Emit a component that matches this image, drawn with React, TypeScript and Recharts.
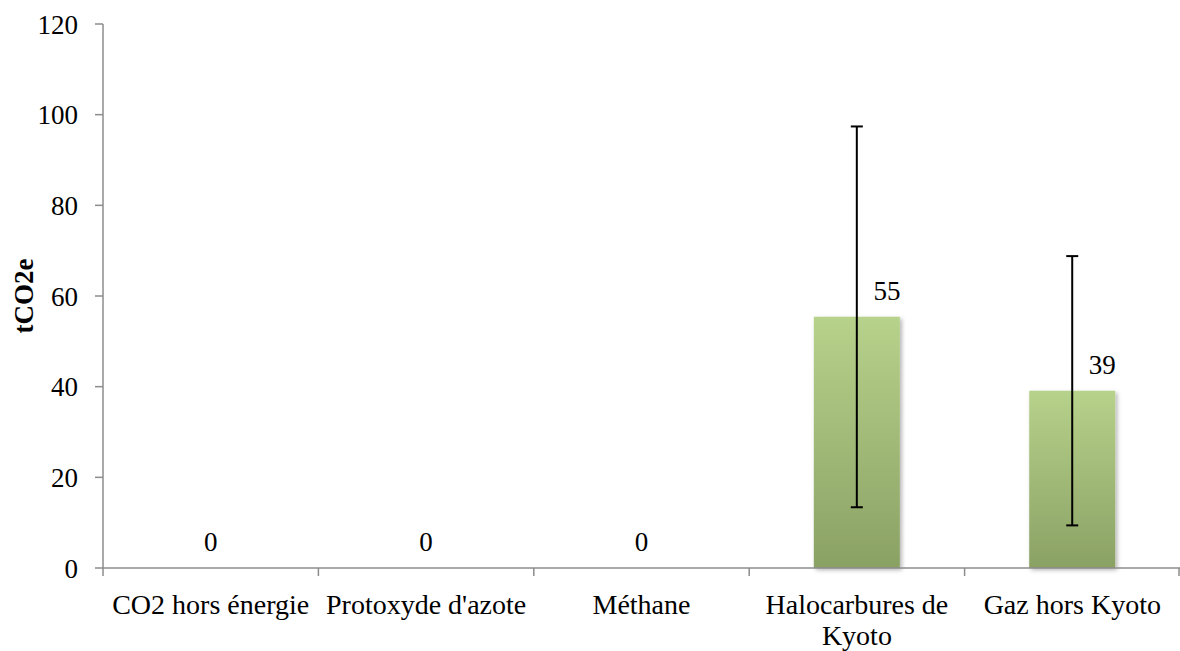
import { ComposedChart, Bar, Line, XAxis, YAxis, ErrorBar } from "recharts";

const categories = ["CO2 hors énergie", "Protoxyde d'azote", "Méthane", "Halocarbures de Kyoto", "Gaz hors Kyoto"];
const values = [0, 0, 0, 55.4, 39.1];
const errors = [0, 0, 0, 42, 29.7];
const yTicks = [0, 20, 40, 60, 80, 100, 120];

const data = categories.map((name, i) => ({ name, value: values[i], err: errors[i] }));

const FONT = "'Liberation Serif', 'Times New Roman', serif";
const AXIS = "#8c8c8c";
const W = 1180;
const H = 651;
const LEFT = 103;
const BAND = (W - LEFT) / categories.length;
const MAX_CHARS = 18;

// break long category names on the last space that fits
function wrap(label: string): string[] {
  if (label.length <= MAX_CHARS) return [label];
  const cut = label.lastIndexOf(" ", MAX_CHARS);
  return [label.slice(0, cut), label.slice(cut + 1)];
}

function CategoryTick(props: any) {
  const { x, y, payload, index } = props;
  const lines = wrap(String(payload.value));
  return (
    <g>
      <line x1={x - BAND / 2} y1={y - 8} x2={x - BAND / 2} y2={y} stroke={AXIS} strokeWidth={1.5} />
      {index === categories.length - 1 && (
        <line x1={x + BAND / 2 - 1} y1={y - 8} x2={x + BAND / 2 - 1} y2={y} stroke={AXIS} strokeWidth={1.5} />
      )}
      <text x={x} y={y + 38} textAnchor="middle" fontFamily={FONT} fontSize={28} fill="#000">
        {lines.map((l, i) => (
          <tspan key={i} x={x} dy={i === 0 ? 0 : 31}>
            {l}
          </tspan>
        ))}
      </text>
    </g>
  );
}

function ValueLabel(props: any) {
  const { x, y, value } = props;
  const cx = x + (value > 0 ? 30 : 0);
  return (
    <text x={cx} y={y - 17} textAnchor="middle" fontFamily={FONT} fontSize={27} fill="#000">
      {Math.round(value)}
    </text>
  );
}

export default function App() {
  return (
    <div style={{ position: "absolute", left: 0, top: 0, width: W, height: H, background: "#fff" }}>
      <ComposedChart width={W} height={H} data={data} margin={{ top: 24, right: 0, left: 0, bottom: 0 }} barCategoryGap="30%">
        <defs>
          <linearGradient id="barGrad" x1="0" y1="0" x2="0" y2="1">
            <stop offset="0%" stopColor="#b7d28b" />
            <stop offset="100%" stopColor="#8aa164" />
          </linearGradient>
          <filter id="barShadow" x="-10%" y="-10%" width="130%" height="130%">
            <feDropShadow dx="2" dy="2" stdDeviation="2" floodColor="#000" floodOpacity="0.3" />
          </filter>
        </defs>
        <XAxis
          dataKey="name"
          interval={0}
          height={83}
          axisLine={{ stroke: AXIS, strokeWidth: 1.5 }}
          tickLine={false}
          tick={<CategoryTick />}
        />
        <YAxis
          width={LEFT}
          domain={[0, 120]}
          ticks={yTicks}
          interval={0}
          axisLine={{ stroke: AXIS, strokeWidth: 1.5 }}
          tickLine={{ stroke: AXIS, strokeWidth: 1.5 }}
          tickSize={8}
          tickMargin={17}
          tick={{ fontFamily: FONT, fontSize: 27, fill: "#000" }}
          label={{
            value: "tCO2e",
            content: ({ viewBox }: any) => {
              const cx = viewBox.x + 24;
              const cy = viewBox.y + viewBox.height / 2;
              return (
                <text
                  x={cx}
                  y={cy}
                  transform={`rotate(-90 ${cx} ${cy})`}
                  textAnchor="middle"
                  dominantBaseline="central"
                  fontFamily={FONT}
                  fontWeight="bold"
                  fontSize={27}
                  fill="#000"
                >
                  tCO2e
                </text>
              );
            },
          }}
        />
        <Bar dataKey="value" fill="url(#barGrad)" filter="url(#barShadow)" isAnimationActive={false}>
          <ErrorBar dataKey="err" width={6} stroke="#000" strokeWidth={2} direction="y" />
        </Bar>
        <Line
          dataKey="value"
          stroke="none"
          dot={false}
          activeDot={false}
          legendType="none"
          isAnimationActive={false}
          label={<ValueLabel />}
        />
      </ComposedChart>
    </div>
  );
}
